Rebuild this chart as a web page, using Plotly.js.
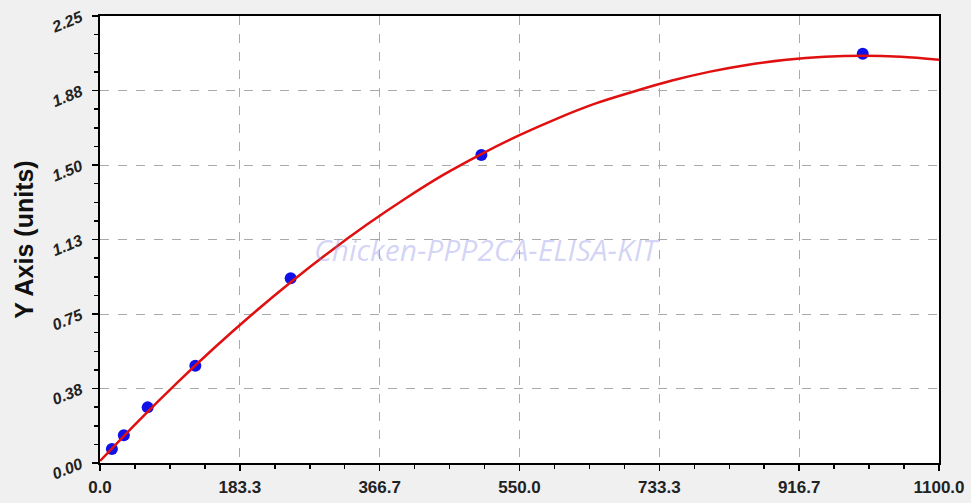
<!DOCTYPE html>
<html>
<head>
<meta charset="utf-8">
<script src="https://cdn.plot.ly/plotly-3.0.1.min.js"></script>
<style>html,body{margin:0;padding:0;background:#f0f0f0;}#chart{width:971px;height:503px;}</style>
</head>
<body>
<div id="chart"></div>
<script>
// Measured standard points
const pointX = [15.6, 31.25, 62.5, 125, 250, 500, 1000];
const pointY = [0.07, 0.14, 0.28, 0.49, 0.93, 1.55, 2.06];

// Fitted curve
const curveX = [0, 50, 100, 150, 200, 250, 300, 350, 400, 450, 500, 550, 600, 650, 700, 750, 800, 850, 900, 950, 1000, 1050, 1100];
const curveY = [0.01, 0.21, 0.40, 0.58, 0.75, 0.91, 1.06, 1.20, 1.33, 1.45, 1.555, 1.65, 1.735, 1.81, 1.87, 1.925, 1.97, 2.005, 2.03, 2.045, 2.05, 2.045, 2.03];

// Tick labels
const xTickVals = [0, 183.33, 366.67, 550, 733.33, 916.67, 1100];
const xTickText = ["0.0", "183.3", "366.7", "550.0", "733.3", "916.7", "1100.0"];
const yTickVals = [0, 0.375, 0.75, 1.125, 1.5, 1.875, 2.25];
const yTickText = ["0.00", "0.38", "0.75", "1.13", "1.50", "1.88", "2.25"];

const watermark = "Chicken-PPP2CA-ELISA-KIT";

const traces = [
  {x: pointX, y: pointY, mode: 'markers', type: 'scatter',
   marker: {color: '#1010e8', size: 12}, hoverinfo: 'x+y'},
  {x: curveX, y: curveY, mode: 'lines', type: 'scatter',
   line: {color: '#e01010', width: 2.5, shape: 'spline', smoothing: 1}}
];

const tickFont = {family: 'Liberation Sans, Arial, sans-serif', size: 17, color: '#222', weight: 'bold'};

const layout = {
  width: 971, height: 503,
  paper_bgcolor: '#f0f0f0', plot_bgcolor: '#ffffff',
  margin: {l: 100, r: 32, t: 16, b: 40},
  showlegend: false,
  xaxis: {
    range: [0, 1100], tickmode: 'array', tickvals: xTickVals, ticktext: xTickText,
    ticks: 'outside', ticklen: 6, tickwidth: 1.5, tickcolor: '#000',
    showline: true, linecolor: '#000', linewidth: 2, mirror: true,
    showgrid: true, gridcolor: '#aaaaaa', griddash: 'dash', gridwidth: 1,
    zeroline: false, tickfont: tickFont, ticklabelstandoff: 2,
    minor: {tickmode: 'linear', tick0: 0, dtick: 1100/24, ticks: 'outside', ticklen: 4, tickcolor: '#000', showgrid: false}
  },
  yaxis: {
    range: [0, 2.25], tickmode: 'array', tickvals: yTickVals, ticktext: yTickText,
    ticks: 'outside', ticklen: 6, tickwidth: 1.5, tickcolor: '#000',
    showline: true, linecolor: '#000', linewidth: 2, mirror: true,
    showgrid: true, gridcolor: '#aaaaaa', griddash: 'dash', gridwidth: 1,
    zeroline: false, tickfont: Object.assign({}, tickFont, {size: 16, style: 'italic'}), tickangle: -22,
    ticklabelstandoff: 8,
    minor: {tickmode: 'linear', tick0: 0, dtick: 2.25/24, ticks: 'outside', ticklen: 4, tickcolor: '#000', showgrid: false},
    title: {text: 'Y Axis (units)', font: {family: 'Liberation Sans, Arial, sans-serif', size: 25, color: '#111', weight: 'bold'}, standoff: 8}
  },
  annotations: [{
    x: 508, y: 1.075, xref: 'x', yref: 'y', text: watermark, showarrow: false,
    font: {family: 'Open Sans, sans-serif', size: 30, color: 'rgba(130,130,230,0.35)', style: 'italic'}
  }]
};

Plotly.newPlot('chart', traces, layout, {displayModeBar: false, staticPlot: true});
</script>
</body>
</html>
